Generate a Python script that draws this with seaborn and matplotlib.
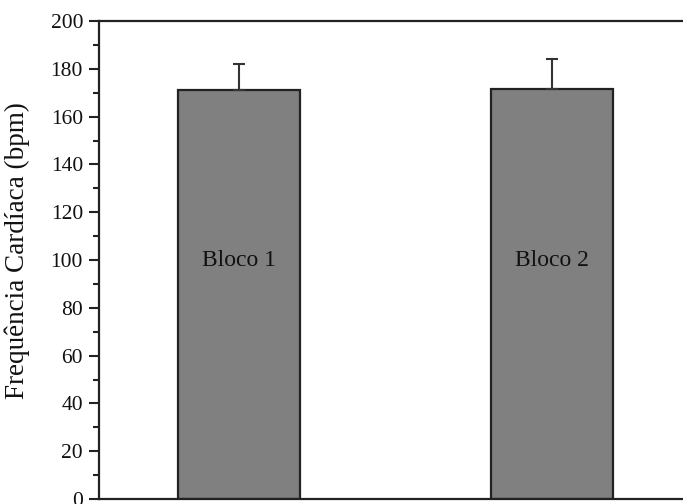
import matplotlib
matplotlib.use("Agg")
import matplotlib.pyplot as plt
import seaborn as sns
import pandas as pd
from matplotlib.ticker import MultipleLocator

# Heart-rate means and standard deviations per block
blocos = ["Bloco 1", "Bloco 2"]
media = [171.1, 171.7]
desvio = [11.0, 12.4]

df = pd.DataFrame({"bloco": blocos, "fc": media})

sns.set_theme(style="white")
plt.rcParams["font.family"] = ["Liberation Serif", "DejaVu Serif"]

fig = plt.figure(figsize=(6.83, 5.04), dpi=100)
ax = fig.add_axes([99 / 683, 5 / 504, 1 - 99 / 683, (499 - 21) / 504])

sns.barplot(data=df, x="bloco", y="fc", color="#808080", saturation=1,
            width=0.39, edgecolor="#222222", linewidth=1.6, ax=ax, errorbar=None)

# upper-only error bars
xs = range(len(blocos))
ax.errorbar(xs, media, yerr=[[0] * len(desvio), desvio], fmt="none",
            ecolor="#333333", elinewidth=1.5, capsize=4.5, capthick=1.5)

for x, lab in zip(xs, blocos):
    ax.text(x, 100, lab, ha="center", va="center", fontsize=17, color="#111111")

ax.set_ylim(0, 200)
ax.set_xlim(-0.448, 1.42)
ax.yaxis.set_major_locator(MultipleLocator(20))
ax.yaxis.set_minor_locator(MultipleLocator(10))
ax.tick_params(axis="y", which="major", direction="out", length=7.5, width=1.5,
               labelsize=15.5, left=True, colors="#222222", labelcolor="#111111", pad=4)
ax.tick_params(axis="y", which="minor", direction="out", length=4, width=1.5, left=True,
               colors="#222222")
ax.tick_params(axis="x", bottom=False, labelbottom=False)
ax.set_xlabel("")
ax.set_ylabel("Frequência Cardíaca (bpm)", fontsize=19.5, color="#111111")
ax.yaxis.set_label_coords(-0.118, 0.52)

for side in ["left", "top", "bottom"]:
    ax.spines[side].set_visible(True)
    ax.spines[side].set_linewidth(1.6)
    ax.spines[side].set_color("#222222")
ax.spines["right"].set_visible(False)

fig.savefig("out.png", dpi=100)
